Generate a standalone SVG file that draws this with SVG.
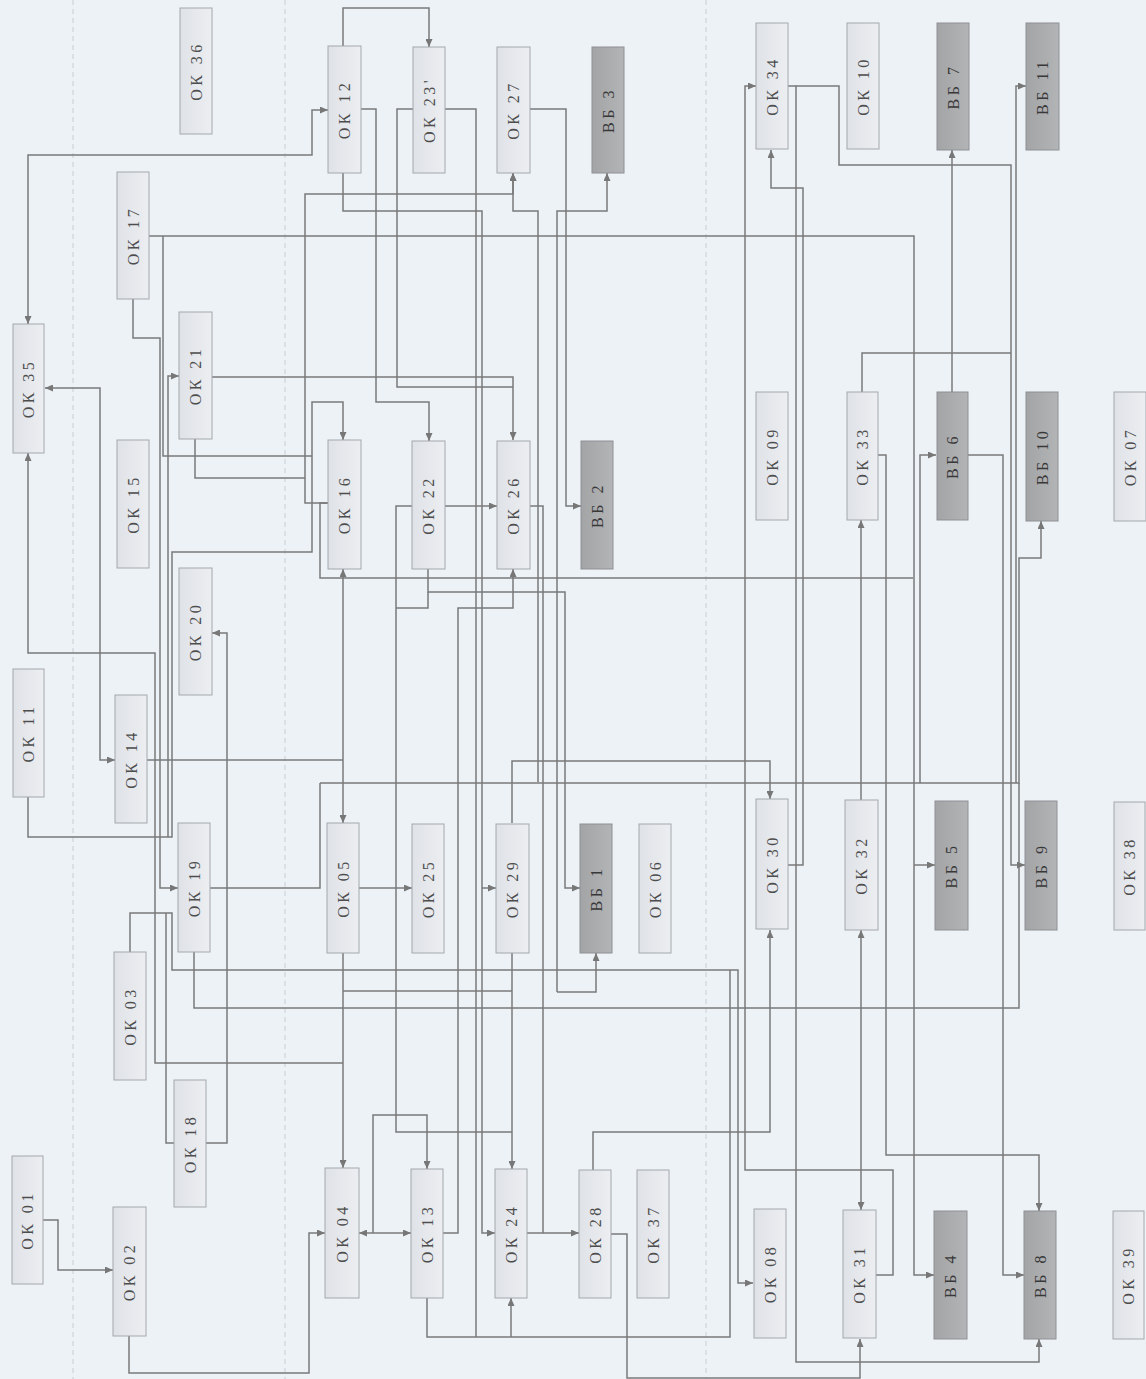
<svg xmlns="http://www.w3.org/2000/svg" width="1146" height="1379" viewBox="0 0 1146 1379">
<defs>
<linearGradient id="gl" x1="0" y1="0" x2="1" y2="0"><stop offset="0" stop-color="#dfe2e7"/><stop offset="1" stop-color="#eceef1"/></linearGradient>
<linearGradient id="gd" x1="0" y1="0" x2="1" y2="0"><stop offset="0" stop-color="#a3a4a6"/><stop offset="1" stop-color="#b3b4b6"/></linearGradient>
<marker id="ar" viewBox="0 0 8 7" refX="8" refY="3.5" markerWidth="8" markerHeight="7" markerUnits="userSpaceOnUse" orient="auto-start-reverse"><path d="M0,0 L8,3.5 L0,7 z" fill="#777"/></marker>
<style>
.n rect{fill:url(#gl);stroke:#a4a8ad;stroke-width:1}
.d rect{fill:url(#gd);stroke:#8e9093;stroke-width:1}
text{font-family:"Liberation Serif","DejaVu Serif",serif;font-size:16px;letter-spacing:3.5px;fill:#4d4d4d;text-anchor:middle;dominant-baseline:central}
.d text{fill:#383838}
#connectors path{fill:none;stroke:#7a7a7a;stroke-width:1.5}
.a{marker-end:url(#ar)}
.b{marker-start:url(#ar);marker-end:url(#ar)}
.dash{stroke:#c9ced4;stroke-width:1;stroke-dasharray:5 4}
</style>
</defs>
<rect width="1146" height="1379" fill="#edf2f7"/>
<line class="dash" x1="73" y1="0" x2="73" y2="1379"/>
<line class="dash" x1="285" y1="0" x2="285" y2="1379"/>
<line class="dash" x1="706" y1="0" x2="706" y2="1379"/>

<g id="connectors">
<path class="a" d="M343,46 V8 H429 V47"/>
<path class="b" d="M28,324 V155 H312 V110 H328"/>
<path class="a" d="M149,236 H914 V1275 H934"/>
<path class="a" d="M914,865 H935"/>
<path class="a" d="M876,1275 H893 V1170 H745 V86 H756"/>
<path class="a" d="M788,86 H796 V1362 H1039 V1339"/>
<path class="a" d="M796,86 H839 V165 H1011 V865 H1025"/>
<path class="a" d="M788,865 H803 V188 H771 V150"/>
<path d="M862,392 V353 H1011"/>
<path class="a" d="M952,392 V150"/>
<path class="a" d="M878,455 H886 V1155 H1039 V1211"/>
<path class="a" d="M968,455 H1003 V1275 H1024"/>
<path class="a" d="M920,783 V455 H936"/>
<path class="a" d="M320,783 H1019 V558 H1041 V521"/>
<path class="a" d="M1016,783 V86 H1026"/>
<path class="a" d="M861,800 V520"/>
<path class="b" d="M861,930 V1210"/>
<path class="a" d="M611,1234 H627 V1378 H860 V1339"/>
<path class="a" d="M593,1170 V1132 H770 V930"/>
<path d="M194,952 V1008 H1019 V783"/>
<path d="M328,503 H320 V578 H913"/>
<path class="a" d="M512,823 V761 H770 V799"/>
<path d="M147,760 H343"/>
<path class="a" d="M343,760 V569"/>
<path class="a" d="M343,760 V823"/>
<path class="b" d="M45,388 H100 V760 H115"/>
<path class="a" d="M343,1063 H155 V653 H28 V453"/>
<path class="a" d="M343,953 V1168"/>
<path class="a" d="M28,797 V837 H172 V552 H312 V402 H343 V440"/>
<path class="a" d="M168,837 V376 H179"/>
<path class="a" d="M133,299 V338 H160 V888 H178"/>
<path d="M163,236 V456 H312"/>
<path d="M195,439 V478 H305"/>
<path class="a" d="M328,503 H305 V194 H513 V173"/>
<path class="a" d="M212,377 H513 V440"/>
<path d="M413,109 H397 V387 H513"/>
<path class="a" d="M361,109 H376 V402 H429 V441"/>
<path class="a" d="M343,173 V211 H482 V1233 H495"/>
<path class="a" d="M482,888 H496"/>
<path d="M445,109 H476 V1337"/>
<path d="M427,1298 V1337 H730 V970"/>
<path class="a" d="M511,1337 V1298"/>
<path class="a" d="M130,952 V913 H172 V970 H738 V1283 H753"/>
<path class="a" d="M530,109 H566 V506 H581"/>
<path class="a" d="M445,506 H497"/>
<path d="M412,506 H396 V1132 H512"/>
<path class="a" d="M512,953 V1169"/>
<path class="a" d="M428,569 V592 H565 V888 H580"/>
<path d="M428,592 V608 H396"/>
<path class="a" d="M443,1233 H458 V608 H513 V569"/>
<path class="a" d="M530,506 H543 V1233 H579"/>
<path d="M527,1233 H543"/>
<path class="a" d="M538,782 V211 H513 V173"/>
<path class="a" d="M557,992 V211 H607 V173"/>
<path class="a" d="M557,992 H596 V953"/>
<path d="M210,888 H320 V783"/>
<path class="a" d="M359,888 H412"/>
<path d="M343,991 H512"/>
<path class="a" d="M129,1336 V1373 H309 V1233 H325"/>
<path class="a" d="M43,1220 H58 V1270 H113"/>
<path class="b" d="M359,1233 H411"/>
<path class="a" d="M373,1233 V1115 H427 V1169"/>
<path d="M174,1143 H166 V913"/>
<path class="a" d="M206,1143 H227 V633 H212"/>
</g>

<g id="ok36" class="n"><rect x="180" y="8" width="32" height="126"/><text transform="translate(196,71) rotate(-90)">ОК 36</text></g>
<g id="ok12" class="n"><rect x="328" y="46" width="33" height="127"/><text transform="translate(344.5,109.5) rotate(-90)">ОК 12</text></g>
<g id="ok23" class="n"><rect x="413" y="47" width="32" height="126"/><text transform="translate(429,110) rotate(-90)">ОК 23'</text></g>
<g id="ok27" class="n"><rect x="497" y="47" width="33" height="126"/><text transform="translate(513.5,110) rotate(-90)">ОК 27</text></g>
<g id="vb3" class="d"><rect x="592" y="47" width="32" height="126"/><text transform="translate(608,110) rotate(-90)">ВБ 3</text></g>
<g id="ok34" class="n"><rect x="756" y="23" width="32" height="126"/><text transform="translate(772,86) rotate(-90)">ОК 34</text></g>
<g id="ok10" class="n"><rect x="847" y="23" width="32" height="126"/><text transform="translate(863,86) rotate(-90)">ОК 10</text></g>
<g id="vb7" class="d"><rect x="937" y="23" width="32" height="127"/><text transform="translate(953,86.5) rotate(-90)">ВБ 7</text></g>
<g id="vb11" class="d"><rect x="1026" y="23" width="33" height="127"/><text transform="translate(1042.5,86.5) rotate(-90)">ВБ 11</text></g>
<g id="ok17" class="n"><rect x="117" y="172" width="32" height="127"/><text transform="translate(133,235.5) rotate(-90)">ОК 17</text></g>
<g id="ok35" class="n"><rect x="13" y="324" width="31" height="129"/><text transform="translate(28.5,388.5) rotate(-90)">ОК 35</text></g>
<g id="ok21" class="n"><rect x="179" y="312" width="33" height="127"/><text transform="translate(195.5,375.5) rotate(-90)">ОК 21</text></g>
<g id="ok15" class="n"><rect x="117" y="440" width="32" height="128"/><text transform="translate(133,504) rotate(-90)">ОК 15</text></g>
<g id="ok16" class="n"><rect x="328" y="440" width="33" height="129"/><text transform="translate(344.5,504.5) rotate(-90)">ОК 16</text></g>
<g id="ok22" class="n"><rect x="412" y="441" width="33" height="128"/><text transform="translate(428.5,505) rotate(-90)">ОК 22</text></g>
<g id="ok26" class="n"><rect x="497" y="441" width="33" height="128"/><text transform="translate(513.5,505) rotate(-90)">ОК 26</text></g>
<g id="vb2" class="d"><rect x="581" y="441" width="32" height="128"/><text transform="translate(597,505) rotate(-90)">ВБ 2</text></g>
<g id="ok09" class="n"><rect x="756" y="392" width="32" height="128"/><text transform="translate(772,456) rotate(-90)">ОК 09</text></g>
<g id="ok33" class="n"><rect x="847" y="392" width="31" height="128"/><text transform="translate(862.5,456) rotate(-90)">ОК 33</text></g>
<g id="vb6" class="d"><rect x="937" y="392" width="31" height="128"/><text transform="translate(952.5,456) rotate(-90)">ВБ 6</text></g>
<g id="vb10" class="d"><rect x="1026" y="392" width="32" height="129"/><text transform="translate(1042,456.5) rotate(-90)">ВБ 10</text></g>
<g id="ok07" class="n"><rect x="1114" y="392" width="32" height="129"/><text transform="translate(1130,456.5) rotate(-90)">ОК 07</text></g>
<g id="ok20" class="n"><rect x="179" y="568" width="33" height="127"/><text transform="translate(195.5,631.5) rotate(-90)">ОК 20</text></g>
<g id="ok11" class="n"><rect x="13" y="669" width="31" height="128"/><text transform="translate(28.5,733) rotate(-90)">ОК 11</text></g>
<g id="ok14" class="n"><rect x="115" y="695" width="32" height="128"/><text transform="translate(131,759) rotate(-90)">ОК 14</text></g>
<g id="ok19" class="n"><rect x="178" y="823" width="32" height="129"/><text transform="translate(194,887.5) rotate(-90)">ОК 19</text></g>
<g id="ok05" class="n"><rect x="327" y="823" width="32" height="130"/><text transform="translate(343,888) rotate(-90)">ОК 05</text></g>
<g id="ok25" class="n"><rect x="412" y="824" width="32" height="129"/><text transform="translate(428,888.5) rotate(-90)">ОК 25</text></g>
<g id="ok29" class="n"><rect x="496" y="824" width="33" height="129"/><text transform="translate(512.5,888.5) rotate(-90)">ОК 29</text></g>
<g id="vb1" class="d"><rect x="580" y="824" width="32" height="129"/><text transform="translate(596,888.5) rotate(-90)">ВБ 1</text></g>
<g id="ok06" class="n"><rect x="639" y="824" width="32" height="129"/><text transform="translate(655,888.5) rotate(-90)">ОК 06</text></g>
<g id="ok30" class="n"><rect x="756" y="799" width="32" height="130"/><text transform="translate(772,864) rotate(-90)">ОК 30</text></g>
<g id="ok32" class="n"><rect x="845" y="800" width="33" height="130"/><text transform="translate(861.5,865) rotate(-90)">ОК 32</text></g>
<g id="vb5" class="d"><rect x="935" y="801" width="33" height="129"/><text transform="translate(951.5,865.5) rotate(-90)">ВБ 5</text></g>
<g id="vb9" class="d"><rect x="1025" y="801" width="32" height="129"/><text transform="translate(1041,865.5) rotate(-90)">ВБ 9</text></g>
<g id="ok38" class="n"><rect x="1114" y="802" width="31" height="128"/><text transform="translate(1129.5,866) rotate(-90)">ОК 38</text></g>
<g id="ok03" class="n"><rect x="114" y="952" width="32" height="128"/><text transform="translate(130,1016) rotate(-90)">ОК 03</text></g>
<g id="ok18" class="n"><rect x="174" y="1080" width="32" height="127"/><text transform="translate(190,1143.5) rotate(-90)">ОК 18</text></g>
<g id="ok01" class="n"><rect x="12" y="1156" width="31" height="128"/><text transform="translate(27.5,1220) rotate(-90)">ОК 01</text></g>
<g id="ok02" class="n"><rect x="113" y="1207" width="33" height="129"/><text transform="translate(129.5,1271.5) rotate(-90)">ОК 02</text></g>
<g id="ok04" class="n"><rect x="325" y="1168" width="34" height="130"/><text transform="translate(342,1233) rotate(-90)">ОК 04</text></g>
<g id="ok13" class="n"><rect x="411" y="1169" width="32" height="129"/><text transform="translate(427,1233.5) rotate(-90)">ОК 13</text></g>
<g id="ok24" class="n"><rect x="495" y="1169" width="32" height="129"/><text transform="translate(511,1233.5) rotate(-90)">ОК 24</text></g>
<g id="ok28" class="n"><rect x="579" y="1170" width="32" height="128"/><text transform="translate(595,1234) rotate(-90)">ОК 28</text></g>
<g id="ok37" class="n"><rect x="637" y="1170" width="32" height="128"/><text transform="translate(653,1234) rotate(-90)">ОК 37</text></g>
<g id="ok08" class="n"><rect x="754" y="1209" width="32" height="129"/><text transform="translate(770,1273.5) rotate(-90)">ОК 08</text></g>
<g id="ok31" class="n"><rect x="843" y="1210" width="33" height="128"/><text transform="translate(859.5,1274) rotate(-90)">ОК 31</text></g>
<g id="vb4" class="d"><rect x="934" y="1211" width="33" height="128"/><text transform="translate(950.5,1275) rotate(-90)">ВБ 4</text></g>
<g id="vb8" class="d"><rect x="1024" y="1211" width="32" height="128"/><text transform="translate(1040,1275) rotate(-90)">ВБ 8</text></g>
<g id="ok39" class="n"><rect x="1113" y="1211" width="31" height="128"/><text transform="translate(1128.5,1275) rotate(-90)">ОК 39</text></g>
</svg>
